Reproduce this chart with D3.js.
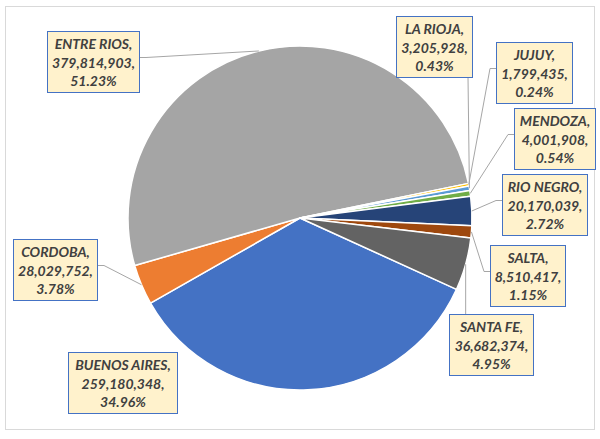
<!DOCTYPE html>
<html>
<head>
<meta charset="utf-8">
<script src="https://cdnjs.cloudflare.com/ajax/libs/d3/7.8.5/d3.min.js"></script>
<style>
  body { margin: 0; background: #fff; }
</style>
</head>
<body>
<div id="chart"></div>
<script>
// data, in the order of the sheet
const provinces = ["BUENOS AIRES", "CORDOBA", "ENTRE RIOS", "JUJUY", "LA RIOJA",
                   "MENDOZA", "RIO NEGRO", "SALTA", "SANTA FE"];
const amounts = [259180348, 28029752, 379814903, 1799435, 3205928,
                 4001908, 20170039, 8510417, 36682374];
const sliceColors = ["#4472C4", "#ED7D31", "#A5A5A5", "#FFC000", "#5B9BD5",
                     "#70AD47", "#264478", "#9E480E", "#636363"];

// where each label box sits (x, y, width) and which side its leader leaves from
const labelLayout = [
  [68, 352, 109, null],
  [13, 239, 84, "right"],
  [47, 31, 92, "right"],
  [496, 42, 76, "left"],
  [396, 16, 76, "bottom"],
  [514, 108, 81, "left"],
  [502, 174, 85, "left"],
  [490, 245, 75, "left"],
  [449, 314, 84, "top"]
];

var width = 600, height = 439;
var cx = 300, cy = 218, radius = 172;
var boxH = 61;
var firstAngle = 114.5 * Math.PI / 180;

var svg = d3.select("#chart").append("svg")
    .attr("width", width).attr("height", height);

svg.append("rect")
    .attr("x", 5.5).attr("y", 6.5)
    .attr("width", 589).attr("height", 423)
    .style("fill", "#fff")
    .style("stroke", "#D9D9D9");

const data = provinces.map((p, i) => ({name: p, value: amounts[i], i: i}));
const total = d3.sum(amounts);

const pie = d3.pie()
    .sort(null)
    .value(d => d.value)
    .startAngle(firstAngle)
    .endAngle(firstAngle + 2 * Math.PI);

const arc = d3.arc().innerRadius(0).outerRadius(radius);
const arcs = pie(data);

const g = svg.append("g").attr("transform", `translate(${cx},${cy})`);

g.selectAll("path")
    .data(arcs)
    .join("path")
    .attr("d", arc)
    .attr("fill", d => sliceColors[d.data.i])
    .attr("stroke", "#fff")
    .attr("stroke-width", 1.5)
    .attr("stroke-linejoin", "round");

// leader lines
const edgePoint = d => {
    const a = (d.startAngle + d.endAngle) / 2;
    return [cx + radius * Math.sin(a), cy - radius * Math.cos(a)];
};

const leaders = svg.append("g")
    .attr("fill", "none")
    .attr("stroke", "#A6A6A6")
    .attr("stroke-width", 1);

arcs.forEach(d => {
    const [bx, by, bw, side] = labelLayout[d.data.i];
    if (!side) return;
    const p = edgePoint(d);
    let pts;
    if (side === "right") {
        pts = [[bx + bw, by + boxH / 2 - 4], [bx + bw + 7, by + boxH / 2 - 4], p];
    } else if (side === "left") {
        pts = [[bx, by + boxH / 2 - 4], [bx - 6, by + boxH / 2 - 4], p];
    } else if (side === "bottom") {
        pts = [[Math.min(p[0], bx + bw - 4), by + boxH], p];
    } else {
        pts = [[Math.max(p[0], bx + 4), by], p];
    }
    leaders.append("path").attr("d", d3.line()(pts));
});

// label boxes
const fmtNum = d3.format(",");
const fmtPct = d3.format(".2%");

const labels = svg.append("g")
    .selectAll("g")
    .data(arcs)
    .join("g")
    .attr("transform", d => `translate(${labelLayout[d.data.i][0]},${labelLayout[d.data.i][1]})`);

labels.append("rect")
    .attr("x", 0.5).attr("y", 0.5)
    .attr("width", d => labelLayout[d.data.i][2])
    .attr("height", boxH)
    .style("fill", "#FFF2CC")
    .style("stroke", "#4472C4")
    .style("stroke-width", 1);

labels.each(function (d) {
    const bw = labelLayout[d.data.i][2];
    const lines = [d.data.name + ",", fmtNum(d.data.value) + ",", fmtPct(d.data.value / total)];
    d3.select(this).selectAll("text")
        .data(lines)
        .join("text")
        .attr("x", bw / 2 + 0.5)
        .attr("y", (t, k) => 18 + k * 18.5)
        .attr("text-anchor", "middle")
        .style("font-family", "Lato, 'Liberation Sans', sans-serif")
        .style("font-weight", "bold")
        .style("font-style", "italic")
        .style("font-size", "14px")
        .style("fill", "#404040")
        .text(t => t);
});
</script>
</body>
</html>
